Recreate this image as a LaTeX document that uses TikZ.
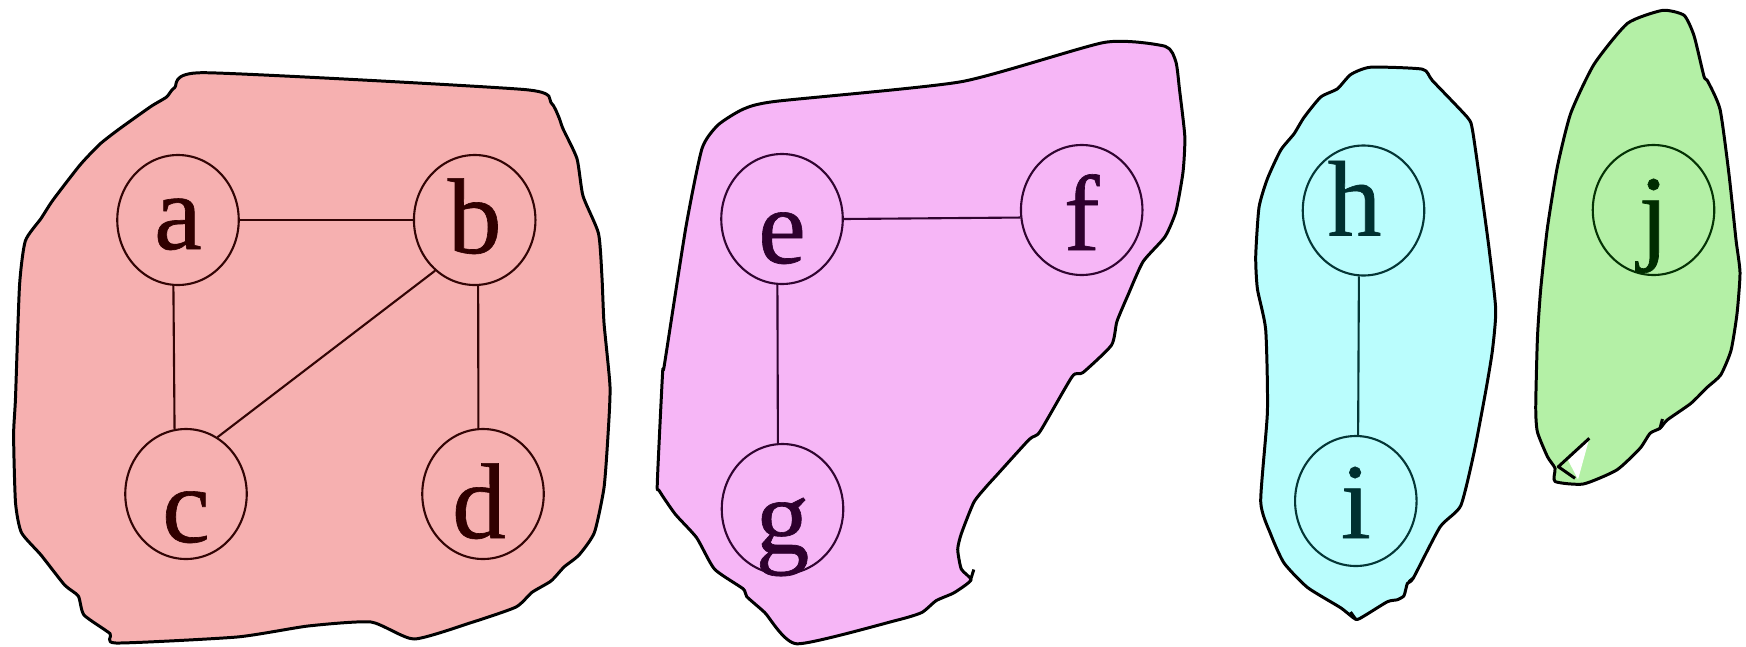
\documentclass[tikz,border=0pt]{standalone}
\usepackage{fontspec}
\setmainfont{Liberation Serif}
\newfontfamily\vtxfont{Liberation Serif}[FakeBold=0.6]
\usetikzlibrary{shapes.geometric}
\definecolor{redfill}{RGB}{246,176,176}
\definecolor{pinkfill}{RGB}{246,182,246}
\definecolor{cyanfill}{RGB}{186,253,253}
\definecolor{greenfill}{RGB}{180,240,166}
\definecolor{redline}{RGB}{50,4,4}
\definecolor{pinkline}{RGB}{48,4,48}
\definecolor{cyanline}{RGB}{4,54,54}
\definecolor{greenline}{RGB}{4,50,4}
\definecolor{redtext}{RGB}{48,0,0}
\definecolor{pinktext}{RGB}{46,0,46}
\definecolor{cyantext}{RGB}{0,48,48}
\definecolor{greentext}{RGB}{0,44,0}
\newcommand\lettr[2]{\raisebox{-#1mm}{#2}}
\tikzset{
  vtx/.style={ellipse, draw, minimum width=12.15mm, minimum height=13mm,
    inner sep=0pt, text height=0pt, text depth=0pt, line width=0.6pt,
    font=\vtxfont\fontsize{30.6pt}{36pt}\selectfont},
  rv/.style={vtx, draw=redline, text=redtext},
  pv/.style={vtx, draw=pinkline, text=pinktext},
  cv/.style={vtx, draw=cyanline, text=cyantext},
  gv/.style={vtx, draw=greenline, text=greentext},
  blob/.style={draw=black, line width=0.85pt, line join=round},
  edgeline/.style={line width=0.6pt}
}
\begin{document}
\begin{tikzpicture}[x=0.1mm, y=-0.1mm]
\useasboundingbox (0,0) rectangle (1746,646);
% red region
\filldraw[blob, fill=redfill] plot[smooth cycle, tension=0.35] coordinates {
(204,72.7) (524,89.5) (551,102.6) (559,117.6) (563,128.8) (577,158.7) (583,196)
(598.5,233.5) (602,278) (604,323) (610,386.7) (608,435) (604,487.7) (594.4,532.5)
(579,555) (564,567) (551,581) (532,592.3) (516,607) (473,622) (414,639) (371,622)
(308,626) (237,637) (116,643) (110,633.5) (84,615) (78.3,596) (64.6,585) (41,555)
(21.4,532.5) (15.5,502.6) (13.6,435) (15.5,398) (19.5,286) (25.3,241) (41,218.5)
(53,200) (80,165) (100,144) (119.5,128.8) (151,106.4) (166.6,97) (174.5,87.7)};
% pink region
\filldraw[blob, fill=pinkfill] plot[smooth cycle, tension=0.35] coordinates {
(796.8,643.8) (764.6,612.4) (746.7,596.6) (743.1,588.8) (714.5,569.1) (696.6,537.7)
(675.2,514.1) (659.1,490.5) (657.3,482.6) (662.6,372.6) (664.4,364.7) (685.9,227.1)
(702,148.5) (718.1,124.9) (743.1,109.2) (775.3,101.4) (961.3,81.7) (1104.4,42.4)
(1165.2,46.3) (1175.9,62) (1179.5,89.6) (1184.8,136.7) (1183,172.1) (1175.9,211.4)
(1165,236.7) (1143,261.7) (1128,295) (1116.9,321.5) (1111.5,345.1) (1082.9,372.6)
(1072.2,376.5) (1040,431.5) (1029.2,439.4) (997,474.8) (986.3,486.6) (973.8,502.3)
(961.3,533.7) (957.7,549.5) (961.3,569.1) (971,580) (954.1,592.7) (936.2,600.6)
(921.9,612.4) (896.9,620.2)};
\draw[blob] (970.5,580) -- (973.8,569.5);
% cyan region
\filldraw[blob, fill=cyanfill] plot[smooth cycle, tension=0.35] coordinates {
(1350.7,74.5) (1370.7,67.2) (1422.4,69.2) (1432.4,80.6) (1467.4,117.4) (1472.4,129.7)
(1480.7,186.9) (1489,248.2) (1495.7,309.5) (1492.4,350.4) (1485.7,391.2) (1474,452.5)
(1460.7,505.7) (1440,527) (1413.3,578) (1407.4,583.3) (1404,595.6) (1397.4,599.7)
(1387.4,601.7) (1364,616) (1355.7,619.3) (1340.7,607.8) (1307.4,587.4) (1284,563)
(1270.7,534.3) (1260.7,501.6) (1267.4,411.7) (1265.7,330) (1257.4,289) (1255.7,256.4)
(1259,207.3) (1267.4,178.7) (1280.7,150.1) (1294,133.8) (1304,117.4) (1320.7,97)
(1337.4,88.8)};
\draw[blob] (1355.7,619.3) -- (1350.5,612);
\draw[blob] (1413.3,578) -- (1409,581.5);
% green region
\filldraw[blob, fill=greenfill] plot[smooth cycle, tension=0.35] coordinates {
(1662.4,10.4) (1684,15.3) (1694,35.7) (1704,76.6) (1707.4,80.6) (1720,109.3)
(1729,174.6) (1736,240) (1740,272.7) (1737,313.6) (1731,350.4) (1720.7,374.9)
(1707.4,387.1) (1690.7,403.5) (1667.4,419.8) (1660,428.3) (1650,433.3) (1640,448.3)
(1616.7,470) (1583.3,484) (1555,481.5) (1555,468.3) (1547.4,456.6) (1537.4,432)
(1535.7,407.6) (1537.4,338.1) (1540.7,289) (1547.4,227.8) (1557.4,166.5)
(1570.7,113.3) (1594,64.3) (1627.4,23.4)};
\draw[blob] (1660,428.3) -- (1662.4,419);
\fill[white] (1589.3,438.3) -- (1578,479.5) -- (1568,460) -- cycle;
\draw[blob] (1589.3,438.3) -- (1558.3,466.7) -- (1575,478.3);
% vertices
\node[rv] (a) at (178,220) {\lettr{2.9}{a}};
\node[rv] (b) at (474.7,220) {\lettr{3.3}{b}};
\node[rv] (c) at (186,494) {\lettr{4.8}{c}};
\node[rv] (d) at (483,494) {\lettr{4.4}{\kern-0.8mm d}};
\node[pv] (e) at (782,219) {\lettr{4.4}{e}};
\node[pv] (f) at (1081.7,210) {\lettr{4.0}{f}};
\node[pv] (g) at (782.5,509) {\lettr{4.4}{g}};
\node[cv] (h) at (1363.5,210.5) {\lettr{2.5}{\kern-1.8mm h}};
\node[cv] (i) at (1355.8,501) {\lettr{3.7}{i}};
\node[gv] (j) at (1653.5,210) {\lettr{4.0}{j}};
% edges
\draw[edgeline, redline] (a) -- (b);
\draw[edgeline, redline] (a.266) -- (c.100.6);
\draw[edgeline, redline] (b.232.7) -- (c.61.6);
\draw[edgeline, redline] (b.273.5) -- (d.94);
\draw[edgeline, pinkline] (e.0) -- (f.187.3);
\draw[edgeline, pinkline] (e.266) -- (g.94);
\draw[edgeline, cyanline] (h.266.5) -- (i.88);
\end{tikzpicture}
\end{document}
